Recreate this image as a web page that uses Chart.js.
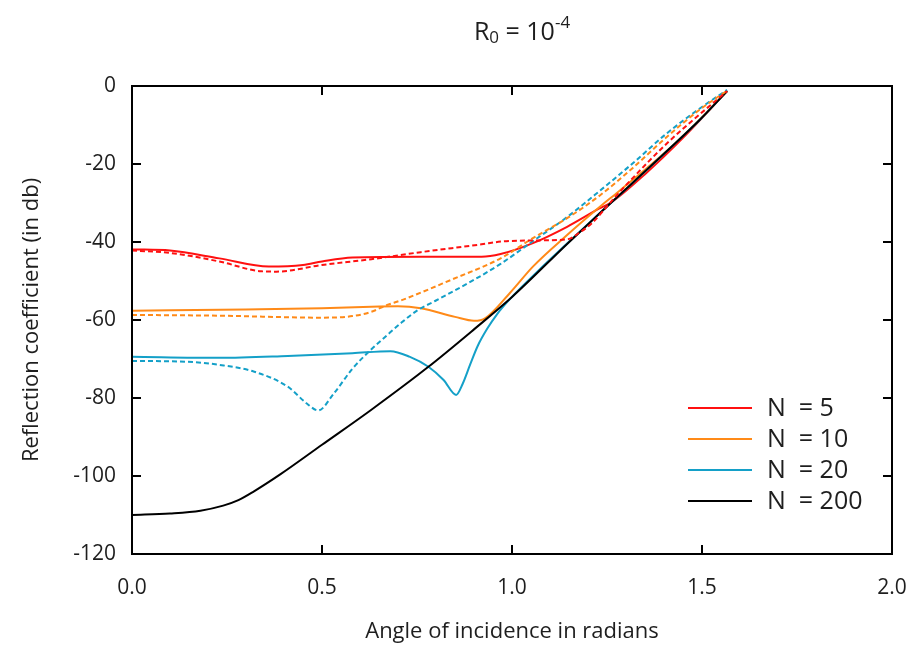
<!DOCTYPE html>
<html><head><meta charset="utf-8">
<script src="https://cdn.jsdelivr.net/npm/chart.js@4.4.1/dist/chart.umd.min.js"></script>
<style>html,body{margin:0;padding:0;background:#fff;}#wrap{width:913px;height:648px;}</style>
</head><body><div id="wrap"><canvas id="c" width="913" height="648"></canvas></div>
<script>
// ---- data (angle in radians, reflection coefficient in dB) ----
const xTicks = [0, 0.5, 1.0, 1.5, 2.0];
const yTicks = [0, -20, -40, -60, -80, -100, -120];
const legendLabels = ['N  = 5', 'N  = 10', 'N  = 20', 'N  = 200'];

const n5SolidX  = [0.0, 0.1, 0.23, 0.36, 0.45, 0.5, 0.58, 0.76, 0.92, 0.97, 1.055, 1.145, 1.23, 1.26, 1.35, 1.45, 1.566];
const n5SolidY  = [-41.9, -42.2, -44.2, -46.3, -45.9, -45, -44, -43.8, -43.8, -43.1, -40.3, -36.1, -31.4, -29.9, -22.6, -13.3, -1.3];
const n5DashX   = [0.0, 0.1, 0.23, 0.34, 0.38, 0.5, 0.63, 0.76, 0.92, 0.97, 1.055, 1.147, 1.176, 1.21, 1.263, 1.31, 1.41, 1.566];
const n5DashY   = [-42.2, -42.8, -45, -47.5, -47.6, -45.9, -44.4, -42.6, -40.6, -39.9, -39.6, -39.3, -37.7, -35.2, -29.4, -24.4, -14.5, -1.3];

const n10SolidX = [0.0, 0.3, 0.5, 0.63, 0.7, 0.76, 0.85, 0.9, 0.93, 0.995, 1.055, 1.145, 1.232, 1.28, 1.41, 1.495, 1.566];
const n10SolidY = [-57.6, -57.3, -57, -56.6, -56.5, -57, -59.2, -60.2, -59.5, -53, -46.3, -38.2, -30.9, -27.1, -16.4, -8.5, -1.3];
const n10DashX  = [0.0, 0.23, 0.5, 0.58, 0.63, 0.67, 0.71, 0.84, 0.97, 1.055, 1.145, 1.232, 1.318, 1.408, 1.495, 1.566];
const n10DashY  = [-58.7, -58.9, -59.4, -59, -57.9, -56.2, -54.9, -49.7, -44.2, -39, -33.9, -28, -21, -13, -6, -1.2];

const n20SolidX = [0.0, 0.23, 0.41, 0.58, 0.68, 0.73, 0.78, 0.82, 0.853, 0.87, 0.89, 0.91, 0.935, 0.96, 0.995, 1.07, 1.145, 1.24, 1.41, 1.495, 1.566];
const n20SolidY = [-69.4, -69.7, -69.2, -68.5, -68, -69.4, -72, -75.4, -79.2, -76.4, -71.4, -66.6, -62.2, -58.6, -54.6, -47.3, -40.4, -31.8, -16.5, -8.6, -1.3];
const n20DashX  = [0.0, 0.145, 0.23, 0.32, 0.41, 0.46, 0.49, 0.53, 0.58, 0.63, 0.67, 0.71, 0.75, 0.80, 0.90, 0.97, 1.055, 1.145, 1.232, 1.318, 1.408, 1.495, 1.566];
const n20DashY  = [-70.5, -70.7, -71.5, -73.2, -77.1, -81.4, -83.2, -79, -72.5, -67.5, -64, -60.6, -57.6, -55, -49.7, -45.6, -39.8, -33.6, -26.8, -19.8, -12.1, -5.7, -1];

const n200X     = [0.0, 0.1, 0.18, 0.24, 0.28, 0.32, 0.39, 0.5, 0.63, 0.78, 0.9, 1.0, 1.145, 1.24, 1.41, 1.495, 1.566];
const n200Y     = [-110, -109.6, -108.9, -107.6, -106.2, -104, -99.6, -92, -83, -72, -62.4, -54.1, -40.5, -31.8, -16.5, -8.6, -1.3];

// ---- styling ----
const RED = '#ff1010', ORANGE = '#ff8a18', BLUE = '#14a0c8', BLACK = '#000000';
const TXT = '#1e1e1e';
const FONT = "'Open Sans', 'Noto Sans', sans-serif";

const pts = (xs, ys) => xs.map((x, i) => ({x, y: ys[i]}));
function ds(xs, ys, color, dashed, label) {
  return {
    label, data: pts(xs, ys), borderColor: color, backgroundColor: color,
    borderWidth: 2, borderDash: dashed ? [5, 3] : [], pointRadius: 0,
    cubicInterpolationMode: 'monotone', fill: false
  };
}

const framePlugin = {
  id: 'frame',
  afterDatasetsDraw(chart) {
    const {ctx, chartArea: {left, right, top, bottom}, scales: {x, y}} = chart;
    ctx.save();
    ctx.strokeStyle = '#000'; ctx.lineWidth = 2; ctx.setLineDash([]);
    ctx.beginPath();
    xTicks.forEach(v => { const p = x.getPixelForValue(v);
      ctx.moveTo(p, bottom); ctx.lineTo(p, bottom - 9);
      ctx.moveTo(p, top); ctx.lineTo(p, top + 9); });
    yTicks.forEach(v => { const p = y.getPixelForValue(v);
      ctx.moveTo(left, p); ctx.lineTo(left + 9, p);
      ctx.moveTo(right, p); ctx.lineTo(right - 9, p); });
    ctx.stroke();
    ctx.strokeRect(left, top, right - left, bottom - top);
    ctx.restore();
  }
};

const legendPlugin = {
  id: 'customLegend',
  afterDraw(chart) {
    const {ctx} = chart;
    const colors = [RED, ORANGE, BLUE, BLACK];
    ctx.save();
    ctx.font = "25px " + FONT;
    ctx.textBaseline = 'middle';
    ctx.fillStyle = TXT;
    legendLabels.forEach((lab, i) => {
      const yy = 408 + i * 31;
      ctx.strokeStyle = colors[i]; ctx.lineWidth = 2; ctx.setLineDash([]);
      ctx.beginPath(); ctx.moveTo(688, yy); ctx.lineTo(752, yy); ctx.stroke();
      ctx.fillText(lab, 767, yy + 1);
    });
    ctx.restore();
  }
};

const titlePlugin = {
  id: 'customTitle',
  afterDraw(chart) {
    const {ctx} = chart;
    const big = "25px " + FONT, small = "17px " + FONT;
    const parts = [
      {t: 'R', f: big, dy: 0},
      {t: '0', f: small, dy: 3},
      {t: ' = 10', f: big, dy: 0},
      {t: '-4', f: small, dy: -12}
    ];
    ctx.save();
    ctx.fillStyle = TXT; ctx.textBaseline = 'alphabetic';
    let w = 0;
    parts.forEach(p => { ctx.font = p.f; p.w = ctx.measureText(p.t).width; w += p.w; });
    let x0 = 522 - w / 2;
    parts.forEach(p => { ctx.font = p.f; ctx.fillText(p.t, x0, 40 + p.dy); x0 += p.w; });
    ctx.restore();
  }
};

new Chart(document.getElementById('c'), {
  type: 'line',
  data: {
    datasets: [
      ds(n5DashX, n5DashY, RED, true, 'N = 5 (dashed)'),
      ds(n10DashX, n10DashY, ORANGE, true, 'N = 10 (dashed)'),
      ds(n20DashX, n20DashY, BLUE, true, 'N = 20 (dashed)'),
      ds(n200X, n200Y, BLACK, false, 'N = 200'),
      ds(n20SolidX, n20SolidY, BLUE, false, 'N = 20'),
      ds(n10SolidX, n10SolidY, ORANGE, false, 'N = 10'),
      ds(n5SolidX, n5SolidY, RED, false, 'N = 5')
    ]
  },
  options: {
    responsive: false, animation: false,
    layout: {padding: {left: 0, right: 21, top: 86, bottom: 0}},
    plugins: {legend: {display: false}, title: {display: false}, tooltip: {enabled: false}},
    scales: {
      x: {
        type: 'linear', min: 0, max: 2,
        afterBuildTicks: s => { s.ticks = xTicks.map(v => ({value: v})); },
        ticks: {callback: v => v.toFixed(1), font: {family: FONT, size: 21}, color: TXT, padding: 21, maxRotation: 0},
        grid: {display: false, drawTicks: false}, border: {display: false},
        title: {display: true, text: 'Angle of incidence in radians', font: {family: FONT, size: 22}, color: TXT, padding: {top: 0, bottom: 3}},
        afterFit: s => { s.height = 94; s.paddingLeft = 0; s.paddingRight = 0; }
      },
      y: {
        type: 'linear', min: -120, max: 0,
        afterBuildTicks: s => { s.ticks = yTicks.map(v => ({value: v})); },
        ticks: {font: {family: FONT, size: 21}, color: TXT, padding: 16},
        grid: {display: false, drawTicks: false}, border: {display: false},
        title: {display: true, text: 'Reflection coefficient (in db)', font: {family: FONT, size: 22}, color: TXT, padding: {top: 19, bottom: 0}},
        afterFit: s => { s.width = 132; s.paddingTop = 0; s.paddingBottom = 0; }
      }
    }
  },
  plugins: [framePlugin, legendPlugin, titlePlugin]
});
</script></body></html>
